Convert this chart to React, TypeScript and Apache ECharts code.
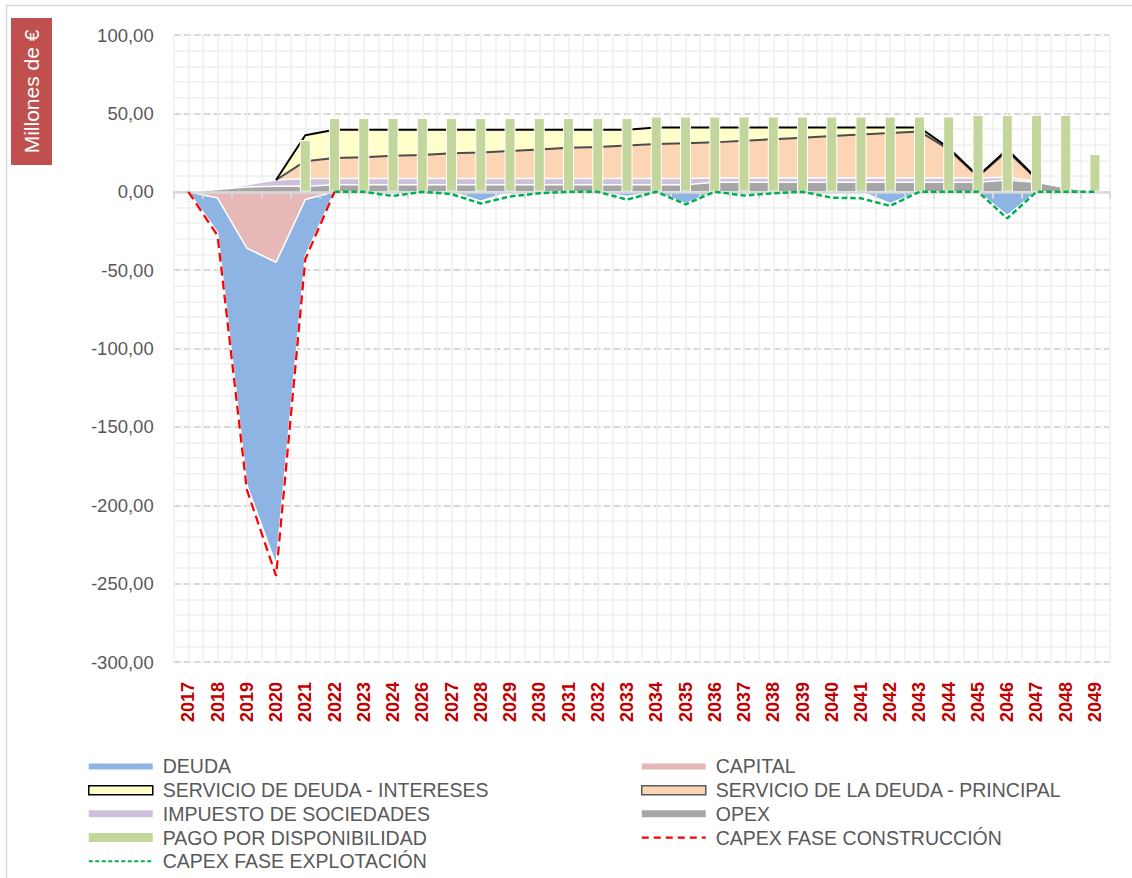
import React, { useEffect, useRef } from 'react';
import * as echarts from 'echarts';

const years = ['2017','2018','2019','2020','2021','2022','2023','2024','2026','2027','2028','2029','2030','2031','2032','2033','2034','2035','2036','2037','2038','2039','2040','2041','2042','2043','2044','2045','2046','2047','2048','2049'];

const capital = [0, -4, -36, -45, -5, 0, 0, 0, 0, 0, 0, 0, 0, 0, 0, 0, 0, 0, 0, 0, 0, 0, 0, 0, 0, 0, 0, 0, 0, 0, 0, 0];
const deuda = [0, -22, -151, -193, -36, 0, 0, 0, 0, 0, -6, 0, 0, 0, 0, -3, 0, -7.5, 0, 0, 0, 0, 0, 0, -7.5, 0, 0, 0, -15, 0, 0, 0];
const opex = [0, 1.5, 3, 3.5, 3.5, 4.5, 4.5, 4.5, 4.5, 4.5, 4.5, 4.5, 4.5, 4.5, 4.5, 4.5, 4.5, 4.5, 6, 6, 6, 6, 6, 6, 6, 6, 6, 6, 7.5, 6, 2.5, 0];
const impuesto = [0, 0.3, 1.5, 4, 5, 4, 4, 4, 4, 4, 4, 4, 4, 4, 4, 4, 4, 4, 2.7, 2.7, 2.7, 2.7, 2.7, 2.7, 2.7, 2.7, 2.7, 2.7, 1.7, 0.5, 0.3, 0];
const principal = [null, null, null, 0, 11, 13, 13.5, 14.5, 15, 16, 16.5, 17.5, 18.5, 19.5, 20, 21, 22, 22.5, 22.8, 23.8, 24.8, 25.8, 26.8, 27.8, 28.8, 29.8, 18.3, 0.8, 16.8, 1.5, null, null];
const intereses = [null, null, null, 0, 16.5, 18, 17.5, 16.5, 16, 15, 14.5, 13.5, 12.5, 11.5, 11, 10, 10.5, 10, 9.5, 8.5, 7.5, 6.5, 5.5, 4.5, 3.5, 2.5, 1, 0.5, 1, 0.7, null, null];
const pago = [null, null, null, null, 33, 47, 47, 47, 47, 47, 47, 47, 47, 47, 47, 47, 48, 48, 48, 48, 48, 48, 48, 48, 48, 48, 48, 49, 49, 49, 49, 24];
const capexConstruccion = [0, -28, -190, -245, -43, 0, null, null, null, null, null, null, null, null, null, null, null, null, null, null, null, null, null, null, null, null, null, null, null, null, null, null];
const capexExplotacion = [null, null, null, null, null, 0, 0, -2.7, 0, -1.5, -7.5, -3, -1, 0, 0, -5, 0, -8, 0, -2.4, -1, 0, -3.8, -4.2, -9, 0, 0, 0, -17, 0, 0, 0];

const yTicks = { min: -300, max: 100, interval: 50 };

const FONT = "'Liberation Sans Narrow', 'Arial Narrow', 'Liberation Sans', Arial, sans-serif";

function bandIcon(h: number) {
  const y = (9 - h) / 2;
  return `path://M0,0M64,9M0,${y}h64v${h}h-64z`;
}
function dashIcon(dash: number, gap: number, h: number) {
  const y = (9 - h) / 2;
  let d = 'path://M0,0M64,9';
  for (let x = 0; x < 64; x += dash + gap) {
    const w = Math.min(dash, 64 - x);
    d += `M${x},${y}h${w}v${h}h${-w}z`;
  }
  return d;
}

export default function App() {
  const ref = useRef<HTMLDivElement>(null);
  useEffect(() => {
    document.body.style.margin = '0';
    if (!ref.current) return;
    const chart = echarts.init(ref.current, null, { renderer: 'svg' });
    const areaBase = {
      type: 'line',
      xAxisIndex: 0,
      yAxisIndex: 0,
      symbol: 'none',
      showSymbol: false,
      silent: true,
      z: 2,
    };
    const legendText = {
      fontFamily: FONT,
      fontSize: 19.5,
      color: '#595959',
      lineHeight: 23.7,
      padding: [0, 0, 0, 5],
    };
    const legendBase = {
      orient: 'vertical',
      top: 754.6,
      padding: 0,
      itemWidth: 64,
      itemHeight: 9,
      itemGap: 0,
      selectedMode: false,
      textStyle: legendText,
    };
    chart.setOption({
      animation: false,
      textStyle: { fontFamily: FONT },
      grid: { left: 173.7, right: 22.4, top: 35, bottom: 216, containLabel: false },
      xAxis: [
        {
          type: 'category',
          data: years,
          position: 'bottom',
          boundaryGap: true,
          axisLine: { show: false, onZero: false },
          axisTick: { show: false },
          splitLine: { show: false },
          axisLabel: {
            interval: 0,
            rotate: 90,
            margin: 20,
            color: '#C00000',
            fontWeight: 'bold',
            fontSize: 18,
            fontFamily: FONT,
          },
        },
        {
          type: 'category',
          data: years,
          position: 'bottom',
          boundaryGap: true,
          z: 10,
          axisLine: { show: true, onZero: true, lineStyle: { color: '#D9D9D9', width: 2.5 } },
          axisTick: { show: true, alignWithLabel: false, interval: 0, length: 7, lineStyle: { color: '#D9D9D9', width: 2 } },
          axisLabel: { show: false },
          splitLine: { show: false },
        },
        {
          type: 'value',
          min: 0,
          max: 64,
          interval: 1,
          position: 'top',
          axisLine: { show: false },
          axisTick: { show: false },
          axisLabel: { show: false },
          splitLine: { show: true, lineStyle: { color: '#EFEFEF', width: 1.5 } },
        },
      ],
      yAxis: {
        type: 'value',
        min: yTicks.min,
        max: yTicks.max,
        interval: yTicks.interval,
        axisLine: { show: false },
        axisTick: { show: false },
        axisLabel: {
          margin: 20,
          color: '#595959',
          fontSize: 18.5,
          fontFamily: FONT,
          formatter: (v: number) => v.toFixed(2).replace('.', ','),
        },
        splitLine: { show: true, lineStyle: { color: '#D9D9D9', width: 2, type: [7, 3] } },
        minorTick: { show: false, splitNumber: 5 },
        minorSplitLine: { show: true, lineStyle: { color: '#EFEFEF', width: 1.5 } },
      },
      legend: [
        {
          ...legendBase,
          left: 88,
          data: [
            { name: 'DEUDA', icon: bandIcon(6), itemStyle: { color: '#8DB4E2', borderWidth: 0 } },
            { name: 'SERVICIO DE DEUDA - INTERESES', icon: 'rect', itemStyle: { color: '#FFFFCC', borderColor: '#000000', borderWidth: 1.5 } },
            { name: 'IMPUESTO DE SOCIEDADES', icon: bandIcon(7), itemStyle: { color: '#CCC0DA', borderWidth: 0 } },
            { name: 'PAGO POR DISPONIBILIDAD', icon: bandIcon(9), itemStyle: { color: '#C3D69B', borderWidth: 0 } },
            { name: 'CAPEX FASE EXPLOTACIÓN', icon: dashIcon(4, 2.5, 1.8), itemStyle: { color: '#00B050', borderWidth: 0 } },
          ],
        },
        {
          ...legendBase,
          left: 641,
          data: [
            { name: 'CAPITAL', icon: bandIcon(6), itemStyle: { color: '#E6B9B8', borderWidth: 0 } },
            { name: 'SERVICIO DE LA DEUDA - PRINCIPAL', icon: 'rect', itemStyle: { color: '#FCD5B5', borderColor: '#595959', borderWidth: 1.5 } },
            { name: 'OPEX', icon: bandIcon(7), itemStyle: { color: '#A6A6A6', borderWidth: 0 } },
            { name: 'CAPEX FASE CONSTRUCCIÓN', icon: dashIcon(7, 5, 2.2), itemStyle: { color: '#FF0000', borderWidth: 0 } },
          ],
        },
      ],
      graphic: [
        {
          type: 'polyline',
          shape: { points: [[6.5, 878], [6.5, 5.5], [1132, 5.5]] },
          style: { stroke: '#D9D9D9', lineWidth: 1.5, fill: 'none' },
          silent: true,
        },
        {
          type: 'rect',
          shape: { x: 11, y: 18, width: 41, height: 147 },
          style: { fill: '#C0504D' },
          silent: true,
        },
        {
          type: 'text',
          x: 31.5,
          y: 91.5,
          rotation: Math.PI / 2,
          style: {
            text: 'Millones de €',
            fill: '#FFFFFF',
            font: `21px ${FONT}`,
            align: 'center',
            verticalAlign: 'middle',
          },
          silent: true,
        },
      ],
      series: [
        { ...areaBase, name: 'CAPITAL', stack: 'neg', data: capital, color: '#E6B9B8', areaStyle: { color: '#E6B9B8', opacity: 1 }, lineStyle: { color: '#FFFFFF', width: 1.5 } },
        { ...areaBase, name: 'DEUDA', stack: 'neg', data: deuda, color: '#8DB4E2', areaStyle: { color: '#8DB4E2', opacity: 1 }, lineStyle: { color: '#FFFFFF', width: 1.5 } },
        { ...areaBase, name: 'OPEX', stack: 'pos', data: opex, color: '#A6A6A6', areaStyle: { color: '#A6A6A6', opacity: 1 }, lineStyle: { color: '#FFFFFF', width: 1.5 } },
        { ...areaBase, name: 'IMPUESTO DE SOCIEDADES', stack: 'pos', data: impuesto, color: '#CCC0DA', areaStyle: { color: '#CCC0DA', opacity: 1 }, lineStyle: { color: '#FFFFFF', width: 1.5 } },
        { ...areaBase, name: 'SERVICIO DE LA DEUDA - PRINCIPAL', stack: 'pos', data: principal, color: '#FCD5B5', areaStyle: { color: '#FCD5B5', opacity: 1 }, lineStyle: { color: '#4D4D4D', width: 2 } },
        { ...areaBase, name: 'SERVICIO DE DEUDA - INTERESES', stack: 'pos', data: intereses, color: '#FFFFCC', areaStyle: { color: '#FFFFCC', opacity: 1 }, lineStyle: { color: '#000000', width: 2 } },
        {
          type: 'bar',
          name: 'PAGO POR DISPONIBILIDAD',
          xAxisIndex: 0,
          yAxisIndex: 0,
          data: pago,
          barWidth: 11,
          z: 3,
          silent: true,
          itemStyle: { color: '#C3D69B', borderColor: '#FFFFFF', borderWidth: 1 },
        },
        {
          type: 'line',
          name: 'CAPEX FASE CONSTRUCCIÓN',
          xAxisIndex: 0,
          yAxisIndex: 0,
          data: capexConstruccion,
          symbol: 'none',
          showSymbol: false,
          silent: true,
          z: 12,
          color: '#FF0000',
          lineStyle: { color: '#FF0000', width: 2.25, type: [9, 5] },
        },
        {
          type: 'line',
          name: 'CAPEX FASE EXPLOTACIÓN',
          xAxisIndex: 0,
          yAxisIndex: 0,
          data: capexExplotacion,
          symbol: 'none',
          showSymbol: false,
          silent: true,
          z: 12,
          color: '#00B050',
          lineStyle: { color: '#00B050', width: 2.5, type: [5.5, 3] },
        },
      ],
    });
    return () => chart.dispose();
  }, []);
  return <div ref={ref} style={{ width: 1132, height: 878 }} />;
}
